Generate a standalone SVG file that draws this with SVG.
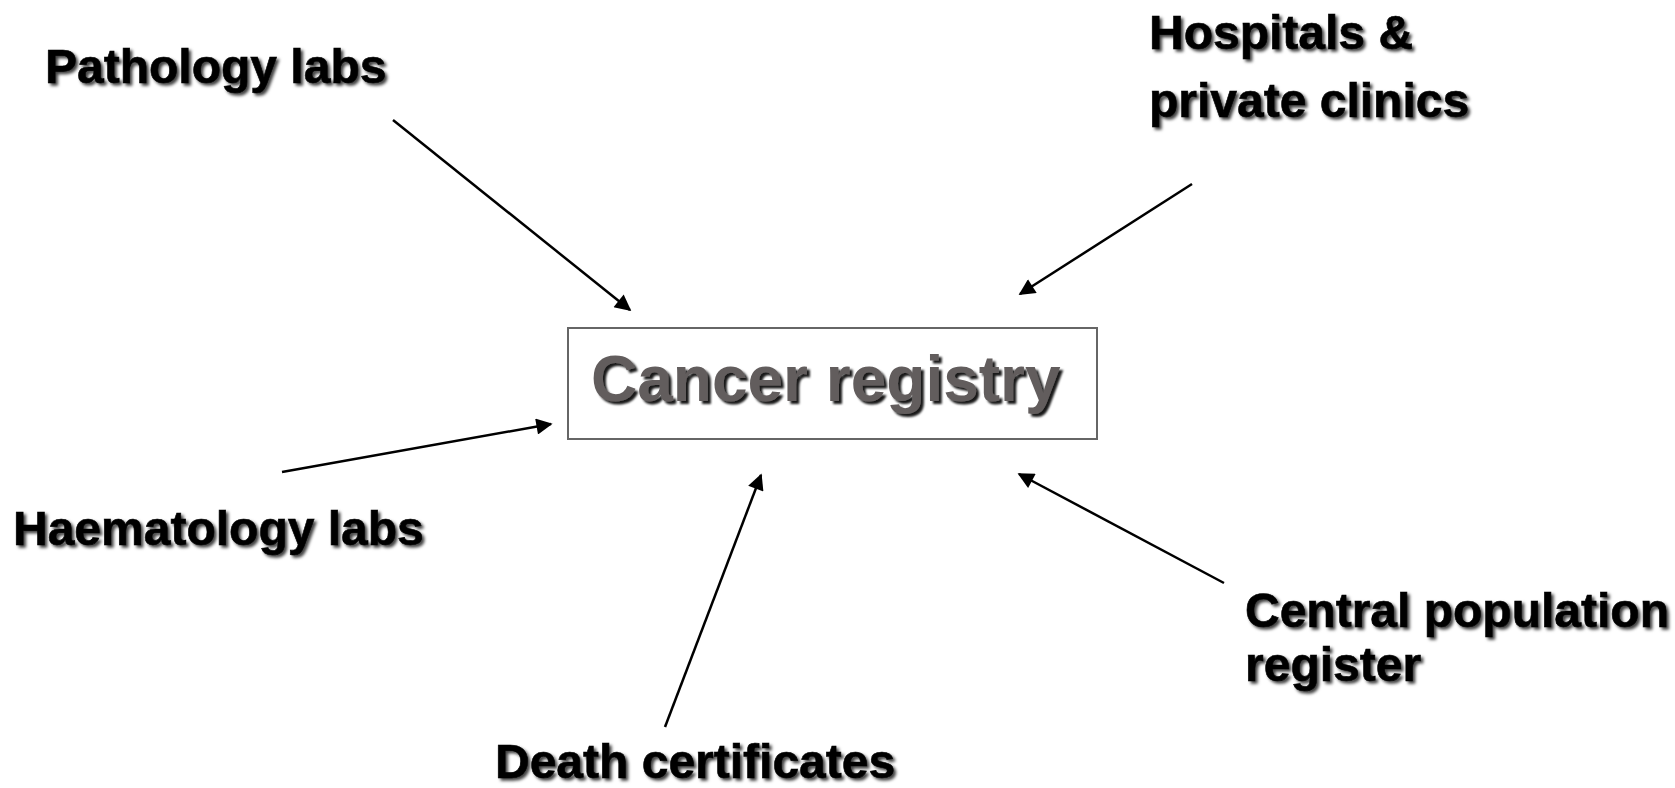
<svg xmlns="http://www.w3.org/2000/svg" width="1675" height="788" viewBox="0 0 1675 788">
<style>
.lbl{font-family:"Liberation Sans",Arial,sans-serif;font-weight:bold;font-size:48px;fill:#000;stroke:#000;stroke-width:0.6;filter:url(#sh)}
.title{font-family:"Liberation Sans",Arial,sans-serif;font-weight:bold;font-size:64px;fill:#625d5d;filter:url(#sh2)}
.conn{stroke:#000;stroke-width:2.5;fill:none;marker-end:url(#ah)}
</style>
<defs>
<filter id="sh" x="-10%" y="-30%" width="120%" height="160%">
<feDropShadow dx="2.5" dy="2.5" stdDeviation="1.5" flood-color="#000" flood-opacity="0.75"/>
</filter>
<filter id="sh2" x="-10%" y="-30%" width="120%" height="160%">
<feDropShadow dx="3" dy="3" stdDeviation="1" flood-color="#000" flood-opacity="0.9"/>
</filter>
<marker id="ah" viewBox="0 0 10 10" refX="9" refY="5" markerWidth="7.5" markerHeight="6.5" markerUnits="strokeWidth" orient="auto">
<path d="M0,0 L10,5 L0,10 Z" fill="#000"/>
</marker>
</defs>
<rect width="1675" height="788" fill="#fff"/>
<g id="registry">
<rect x="568" y="328" width="529" height="111" fill="#fff" stroke="#666" stroke-width="2"/>
<text class="title" x="591" y="401">Cancer registry</text>
</g>
<g id="pathology"><text class="lbl" x="45" y="83">Pathology labs</text></g>
<g id="hospitals"><text class="lbl" x="1149" y="49">Hospitals &amp;</text><text class="lbl" x="1149" y="117">private clinics</text></g>
<g id="haematology"><text class="lbl" x="13" y="545">Haematology labs</text></g>
<g id="central"><text class="lbl" x="1245" y="627">Central population</text><text class="lbl" x="1245" y="681">register</text></g>
<g id="death"><text class="lbl" x="495" y="778">Death certificates</text></g>
<g id="connectors">
<line class="conn" x1="393" y1="120" x2="630" y2="310"/>
<line class="conn" x1="1192" y1="184" x2="1020" y2="294"/>
<line class="conn" x1="282" y1="472" x2="551" y2="424"/>
<line class="conn" x1="665" y1="727" x2="761" y2="475"/>
<line class="conn" x1="1224" y1="583" x2="1019" y2="474"/>
</g>
</svg>
